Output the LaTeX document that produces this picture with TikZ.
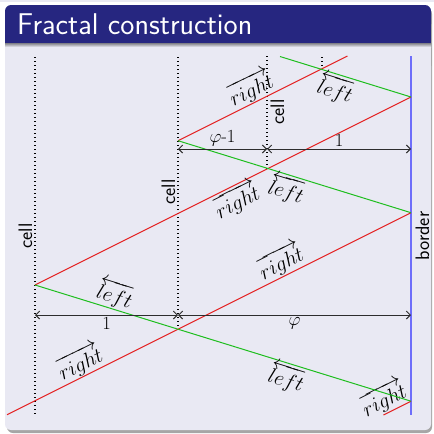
\RequirePackage{fix-cm}
\documentclass[tikz,border=0pt]{standalone}
\usepackage{fontspec}
\usepackage{amsmath}
\usetikzlibrary{arrows.meta}
\definecolor{titleblue}{RGB}{38,38,128}
\definecolor{bodybg}{RGB}{233,233,243}
\definecolor{lred}{RGB}{228,30,30}
\definecolor{lgreen}{RGB}{30,190,30}
\definecolor{lblue}{RGB}{110,110,250}
\definecolor{axisgray}{RGB}{45,45,45}
\begin{document}
\begin{tikzpicture}[x=1pt,y=-1pt,
  redline/.style={draw=lred,line width=1pt},
  greenline/.style={draw=lgreen,line width=1pt},
  cellline/.style={draw=black,line width=1.4pt,dash pattern=on 1.4pt off 2.6pt},
  borderline/.style={draw=lblue,line width=2pt},
  measure/.style={draw=axisgray,line width=1pt,{Straight Barb[length=4pt,width=8pt]}-{Straight Barb[length=4pt,width=8pt]}},
  lbl/.style={font=\fontsize{18.5}{22}\selectfont, inner sep=2pt},
  dirlbl/.style={font=\fontsize{21}{24}\selectfont, inner sep=1pt},
  celllbl/.style={font=\sffamily\fontsize{19.5}{22}\selectfont, rotate=90, anchor=base, inner sep=0pt},
]
\useasboundingbox (0,0) rectangle (434,434);
\fill[white] (0,0) rectangle (434,434);
\fill[bodybg] (0,0) rectangle (434,2);
% block shadow
\fill[black!35,rounded corners=6pt] (7,8) rectangle (432,433);
% title bar and body
\fill[titleblue,rounded corners=6pt] (5,5) rectangle (431,30);
\fill[titleblue] (5,20) rectangle (431,43);
\fill[bodybg,rounded corners=6pt] (5,60) rectangle (431,430);
\fill[bodybg] (5,43) rectangle (431,70);
\shade[top color=black!45!bodybg,bottom color=bodybg] (5,43) rectangle (431,47);
\node[font=\sffamily\fontsize{30}{33}\selectfont, text=white, anchor=base west, inner sep=0pt] (title) at (17,34) {Fractal construction};

% key points
\coordinate (P0) at (35,285);
\coordinate (B1) at (411,97);
\coordinate (C1) at (178,329.2);
\coordinate (Rbl) at (7,414.7);
\coordinate (B2) at (411,212.7);
\coordinate (B3) at (411,401.2);
\coordinate (Rbr) at (383.4,415);
\coordinate (C2) at (178,140.7);
\coordinate (Rtop) at (347.4,56);
\coordinate (Gtop) at (280,56.5);
\coordinate (X1) at (267,168.5);
\coordinate (X2) at (322,69.2);

% dotted cell lines
\coordinate (D1t) at (35,57);  \coordinate (D1b) at (35,415);
\coordinate (D2t) at (178,57);
\coordinate (D3t) at (267,56);
\coordinate (D4t) at (322,57);
\draw[cellline] (D1t) -- (D1b);
\draw[cellline] (D2t) -- (C1);
\draw[cellline] (D3t) -- (X1);
\draw[cellline] (D4t) -- (X2);

% border
\coordinate (Bt) at (411,56); \coordinate (Bb) at (411,415);
\draw[borderline] (Bt) -- (Bb);

% red lines (right)
\draw[redline] (Rbl) -- (B2)
  node[pos=0.196, sloped, above, dirlbl] (r1) {$\overrightarrow{right}$}
  node[pos=0.693, sloped, above, dirlbl] (r2) {$\overrightarrow{right}$};
\draw[redline] (P0) -- (B1)
  node[pos=0.519, sloped, below, dirlbl] (r3) {$\overrightarrow{right}$};
\draw[redline] (C2) -- (Rtop)
  node[pos=0.466, sloped, above, dirlbl] (r4) {$\overrightarrow{right}$};
\draw[redline] (Rbr) -- (B3)
  node[pos=0.24, sloped, above, dirlbl] (r5) {$\overrightarrow{right}$};

% green lines (left)
\draw[greenline] (P0) -- (B3)
  node[pos=0.202, sloped, above, dirlbl] (l1) {$\overleftarrow{left}$}
  node[pos=0.681, sloped, below, dirlbl] (l2) {$\overleftarrow{left}$};
\draw[greenline] (C2) -- (B2)
  node[pos=0.485, sloped, below, dirlbl] (l3) {$\overleftarrow{left}$};
\draw[greenline] (Gtop) -- (B1)
  node[pos=0.458, sloped, below, dirlbl] (l4) {$\overleftarrow{left}$};

% measures
\coordinate (A0) at (35,315); \coordinate (A1) at (178,315); \coordinate (A2) at (411,315);
\coordinate (U0) at (178,149); \coordinate (U1) at (267,149); \coordinate (U2) at (411,149);
\draw[measure] (A0) -- (A1) node[midway, below, lbl] (m1) {$1$};
\draw[measure] (A1) -- (A2) node[midway, below, lbl] (m2) {$\varphi$};
\draw[measure] (U0) -- (U1) node[midway, above, lbl] (m3) {$\varphi$-$1$};
\draw[measure] (U1) -- (U2) node[midway, above, lbl] (m4) {$1$};

% labels
\node[celllbl] (c1) at (32,236) {cell};
\node[celllbl] (c2) at (175,192) {cell};
\node[celllbl] (c3) at (284,112) {cell};
\node[celllbl] (bd) at (429,236) {border};
\end{tikzpicture}
\end{document}
